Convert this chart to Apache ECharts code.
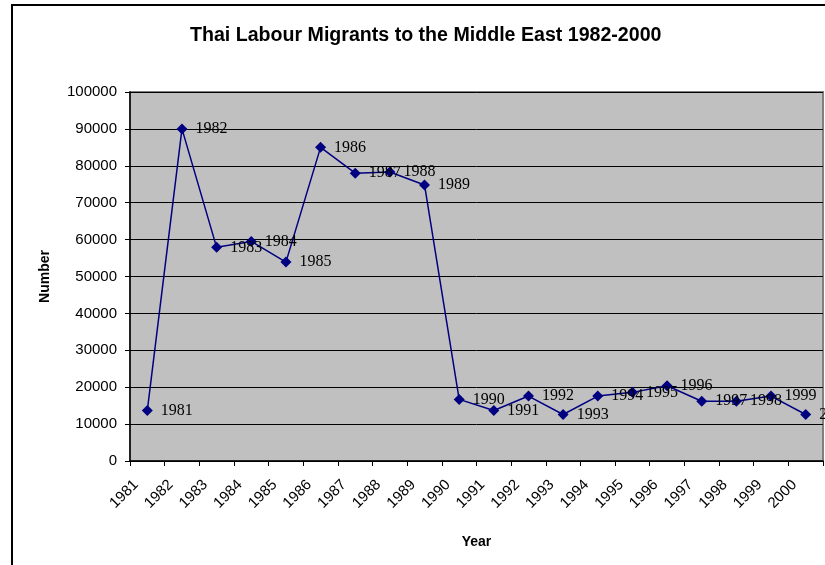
<!DOCTYPE html>
<html>
<head>
<meta charset="utf-8">
<script src="https://cdn.jsdelivr.net/npm/echarts@6/dist/echarts.min.js"></script>
<style>
html,body{margin:0;padding:0;background:#fff;}
#chart{width:825px;height:565px;}
</style>
</head>
<body>
<div id="chart"></div>
<script>
const years = ['1981','1982','1983','1984','1985','1986','1987','1988','1989','1990','1991','1992','1993','1994','1995','1996','1997','1998','1999','2000'];
const migrants = [13700,90000,57900,59500,53900,85000,78000,78300,74800,16700,13700,17600,12600,17600,18600,20400,16200,16200,17600,12600];
const yTicks = {min:0, max:100000, interval:10000};

const chart = echarts.init(document.getElementById('chart'));
chart.setOption({
  animation:false,
  backgroundColor:'#ffffff',
  title:{
    text:'Thai Labour Migrants to the Middle East 1982-2000',
    left:185, top:21,
    textStyle:{fontFamily:'Liberation Sans, Arial', fontWeight:'bold', fontSize:19.6, color:'#000'}
  },
  graphic:[{
    type:'rect', shape:{x:12, y:5, width:900, height:700},
    style:{fill:'none', stroke:'#000', lineWidth:2}, z:100
  }],
  grid:{left:130, right:2, top:92, bottom:104, show:true, backgroundColor:'#C0C0C0', borderColor:'#808080', borderWidth:2},
  xAxis:{
    type:'category', data:years, boundaryGap:true,
    name:'Year', nameLocation:'middle', nameGap:74,
    nameTextStyle:{fontFamily:'Liberation Sans, Arial', fontWeight:'bold', fontSize:14, color:'#000'},
    axisLine:{lineStyle:{color:'#000', width:1.5}},
    axisTick:{show:true, length:5, lineStyle:{color:'#000'}},
    axisLabel:{rotate:45, interval:0, margin:10, padding:[0,16,0,0], fontFamily:'Liberation Sans, Arial', fontSize:15, color:'#000'},
    splitLine:{show:false}
  },
  yAxis:{
    type:'value', min:yTicks.min, max:yTicks.max, interval:yTicks.interval,
    name:'Number', nameLocation:'middle', nameGap:78, nameRotate:90,
    nameTextStyle:{fontFamily:'Liberation Sans, Arial', fontWeight:'bold', fontSize:14, color:'#000'},
    axisLine:{show:true, lineStyle:{color:'#000', width:1.5}},
    axisTick:{show:true, length:5, lineStyle:{color:'#000'}},
    axisLabel:{margin:13, formatter:v=>String(v), fontFamily:'Liberation Sans, Arial', fontSize:15, color:'#000'},
    splitLine:{show:true, lineStyle:{color:'#000', width:1}}
  },
  series:[{
    type:'line', data:migrants,
    symbol:'diamond', symbolSize:11,
    lineStyle:{color:'#000080', width:1.5},
    itemStyle:{color:'#000080'},
    label:{show:true, position:'right', distance:8, formatter:p=>p.name,
      fontFamily:'Liberation Serif, Times New Roman', fontSize:16, color:'#000'}
  }]
});
</script>
</body>
</html>
